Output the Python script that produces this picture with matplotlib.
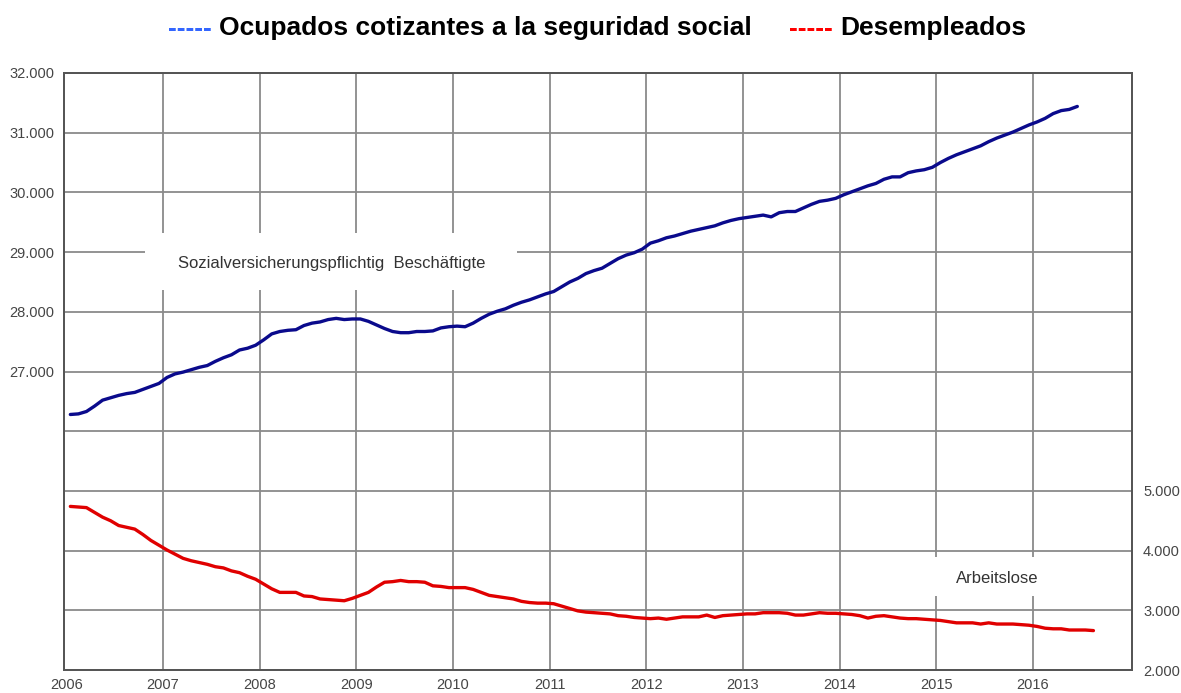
import numpy as np
import matplotlib.pyplot as plt
from matplotlib.patches import Rectangle
from matplotlib.ticker import FuncFormatter

# monthly values, Jan 2006 onwards (miles)
ocupados = [26.28, 26.29, 26.33, 26.42, 26.52, 26.56, 26.60, 26.63, 26.65, 26.70, 26.75, 26.80,
            26.90, 26.96, 26.99, 27.03, 27.07, 27.10, 27.17, 27.23, 27.28, 27.36, 27.39, 27.44,
            27.53, 27.63, 27.67, 27.69, 27.70, 27.77, 27.81, 27.83, 27.87, 27.89, 27.87, 27.88,
            27.88, 27.84, 27.78, 27.72, 27.67, 27.65, 27.65, 27.67, 27.67, 27.68, 27.73, 27.75,
            27.76, 27.75, 27.81, 27.89, 27.96, 28.01, 28.05, 28.11, 28.16, 28.20, 28.25, 28.30,
            28.34, 28.42, 28.50, 28.56, 28.64, 28.69, 28.73, 28.81, 28.89, 28.95, 28.99, 29.05,
            29.15, 29.19, 29.24, 29.27, 29.31, 29.35, 29.38, 29.41, 29.44, 29.49, 29.53, 29.56,
            29.58, 29.60, 29.62, 29.59, 29.66, 29.68, 29.68, 29.74, 29.80, 29.85, 29.87, 29.90,
            29.96, 30.01, 30.06, 30.11, 30.15, 30.22, 30.26, 30.26, 30.33, 30.36, 30.38, 30.42,
            30.50, 30.57, 30.63, 30.68, 30.73, 30.78, 30.85, 30.91, 30.96, 31.01, 31.07, 31.13,
            31.18, 31.24, 31.32, 31.37, 31.39, 31.44]

desempleados = [4.74, 4.73, 4.72, 4.64, 4.56, 4.50, 4.42, 4.39, 4.36, 4.27, 4.17, 4.09,
                4.01, 3.94, 3.87, 3.83, 3.80, 3.77, 3.73, 3.71, 3.66, 3.63, 3.57, 3.52,
                3.44, 3.36, 3.30, 3.30, 3.30, 3.24, 3.23, 3.19, 3.18, 3.17, 3.16, 3.20,
                3.25, 3.30, 3.39, 3.47, 3.48, 3.50, 3.48, 3.48, 3.47, 3.41, 3.40, 3.38,
                3.38, 3.38, 3.35, 3.30, 3.25, 3.23, 3.21, 3.19, 3.15, 3.13, 3.12, 3.12,
                3.11, 3.07, 3.03, 2.99, 2.97, 2.96, 2.95, 2.94, 2.91, 2.90, 2.88, 2.87,
                2.86, 2.87, 2.85, 2.87, 2.89, 2.89, 2.89, 2.92, 2.88, 2.91, 2.92, 2.93,
                2.94, 2.94, 2.96, 2.96, 2.96, 2.95, 2.92, 2.92, 2.94, 2.96, 2.95, 2.95,
                2.94, 2.93, 2.91, 2.87, 2.90, 2.91, 2.89, 2.87, 2.86, 2.86, 2.85, 2.84,
                2.83, 2.81, 2.79, 2.79, 2.79, 2.77, 2.79, 2.77, 2.77, 2.77, 2.76, 2.75,
                2.73, 2.70, 2.69, 2.69, 2.67, 2.67, 2.67, 2.66]

years = list(range(2006, 2017))
left_ticks = list(range(22000, 32001, 1000))
right_ticks = list(range(2000, 12001, 1000))

plt.rcParams['font.family'] = ['Liberation Sans', 'DejaVu Sans']

x_ocu = 2006 + (np.arange(len(ocupados)) + 0.5) / 12
x_des = 2006 + (np.arange(len(desempleados)) + 0.5) / 12

fig = plt.figure(figsize=(11.81, 6.93), dpi=100)
ax = fig.add_axes([64 / 1181, 1 - 670 / 693, 1068 / 1181, 597 / 693])
ax2 = ax.twinx()

grid_c = '#8a8a8a'
ax.set_xlim(2005.976, 2017.024)
ax.set_ylim(22000, 32000)
ax2.set_ylim(2000, 12000)
ax.set_xticks(years)
ax.set_yticks(left_ticks)
ax2.set_yticks(right_ticks)
ax.grid(True, color=grid_c, linewidth=1.3)
ax.set_axisbelow(True)
ax.get_xgridlines()[0].set_visible(False)  # 2006 sits on the frame

ax.yaxis.set_major_formatter(FuncFormatter(
    lambda v, p: '{:,.0f}'.format(v).replace(',', '.') if v >= 27000 else ''))
ax2.yaxis.set_major_formatter(FuncFormatter(
    lambda v, p: '{:,.0f}'.format(v).replace(',', '.') if v <= 5000 else ''))

for a in (ax, ax2):
    a.tick_params(length=0, labelsize=10.5, labelcolor='#454545')
    for s in a.spines.values():
        s.set_color('#555555')
        s.set_linewidth(1.3)
ax.tick_params(axis='y', pad=7)
ax.tick_params(axis='x', pad=6)
ax2.tick_params(axis='y', pad=8)

ax.plot(x_ocu, np.array(ocupados) * 1000, color='#0a0a8c', linewidth=2.4,
        solid_capstyle='round', zorder=3)
ax2.plot(x_des, np.array(desempleados) * 1000, color='#e00000', linewidth=2.4,
         solid_capstyle='round', zorder=3)

# etiquetas con fondo blanco
ax.add_patch(Rectangle((2006.81, 28370), 3.85, 955, facecolor='white',
                       edgecolor='none', zorder=1))
ax.text(2008.74, 28810, 'Sozialversicherungspflichtig  Beschäftigte', fontsize=12,
        color='#333333', ha='center', va='center', zorder=2)
ax2.add_patch(Rectangle((2014.85, 3245), 1.35, 640, facecolor='white',
                        edgecolor='none', zorder=1))
ax2.text(2015.63, 3540, 'Arbeitslose', fontsize=12, color='#333333',
         ha='center', va='center', zorder=2)

# leyenda como titulo
fig.text(168 / 1181, 1 - 29 / 693, '-----', color='#3366ff', fontsize=19,
         fontweight='bold', va='center', ha='left')
fig.text(219 / 1181, 1 - 28 / 693, 'Ocupados cotizantes a la seguridad social',
         fontsize=19, fontweight='bold', va='center', ha='left')
fig.text(789 / 1181, 1 - 29 / 693, '-----', color='#ff0000', fontsize=19,
         fontweight='bold', va='center', ha='left')
fig.text(840 / 1181, 1 - 28 / 693, 'Desempleados', fontsize=19,
         fontweight='bold', va='center', ha='left')

fig.savefig('out.png', dpi=100)
